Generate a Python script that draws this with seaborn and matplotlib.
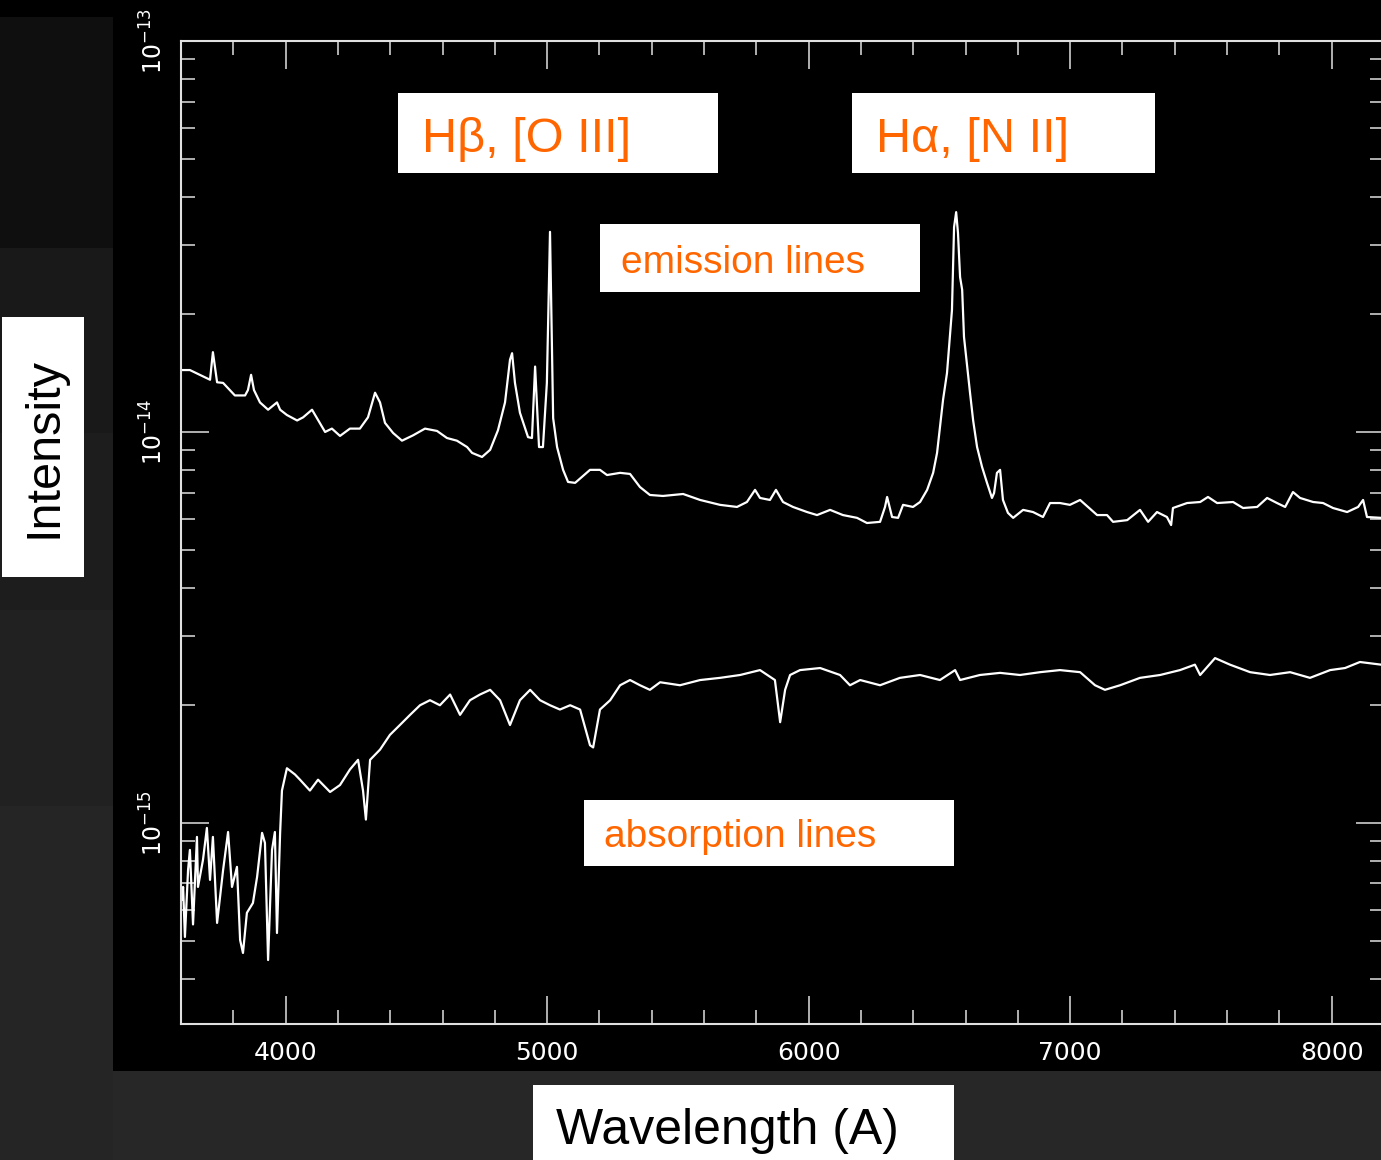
import matplotlib
matplotlib.use("Agg")
import matplotlib.pyplot as plt
import seaborn as sns
import pandas as pd
from matplotlib.patches import Rectangle
from matplotlib.ticker import MultipleLocator, LogLocator, LogFormatterMathtext, NullFormatter

# ---------------- data (flux in units of 1e-15) ----------------
emission_wave = [3600, 3634, 3711, 3722, 3738, 3761, 3806, 3845, 3856, 3868, 3879, 3902, 3933, 3967,
                 3979, 4005, 4044, 4067, 4101, 4120, 4151, 4177, 4208, 4246, 4284, 4315, 4342, 4361,
                 4380, 4411, 4445, 4487, 4533, 4579, 4617, 4655, 4694, 4713, 4751, 4782, 4812, 4839,
                 4858, 4866, 4877, 4896, 4927, 4942, 4954, 4969, 4984, 4999, 5011, 5023, 5038, 5061,
                 5080, 5107, 5164, 5202, 5229, 5279, 5317, 5355, 5393, 5443, 5520, 5585, 5661, 5726,
                 5764, 5795, 5814, 5852, 5875, 5902, 5940, 5994, 6032, 6082, 6131, 6185, 6223, 6273,
                 6292, 6300, 6319, 6342, 6361, 6399, 6426, 6453, 6476, 6491, 6502, 6514, 6529, 6537,
                 6548, 6552, 6556, 6564, 6571, 6579, 6587, 6594, 6606, 6617, 6629, 6644, 6663, 6682,
                 6701, 6709, 6720, 6732, 6743, 6762, 6782, 6820, 6858, 6896, 6923, 6961, 6999, 7038,
                 7068, 7103, 7141, 7164, 7218, 7267, 7298, 7332, 7370, 7386, 7393, 7447, 7497, 7527,
                 7562, 7623, 7661, 7715, 7753, 7791, 7822, 7852, 7879, 7929, 7967, 8005, 8059, 8101,
                 8120, 8135, 8189]
emission_flux = [14.4, 14.4, 13.6, 16.0, 13.4, 13.35, 12.4, 12.4, 12.8, 14.0, 12.8, 11.9, 11.4, 11.9,
                 11.4, 11.05, 10.7, 10.9, 11.4, 10.85, 10.0, 10.2, 9.77, 10.2, 10.2, 10.9, 12.6, 11.9,
                 10.55, 9.94, 9.5, 9.8, 10.2, 10.06, 9.65, 9.5, 9.15, 8.84, 8.63, 9.0, 10.1, 11.9,
                 15.3, 15.9, 13.35, 11.2, 9.7, 9.65, 14.7, 9.15, 9.15, 13.35, 32.5, 10.85, 9.15, 8.0,
                 7.45, 7.41, 8.0, 8.0, 7.76, 7.86, 7.81, 7.23, 6.90, 6.86, 6.94, 6.70, 6.51, 6.43,
                 6.62, 7.11, 6.78, 6.70, 7.11, 6.62, 6.43, 6.24, 6.13, 6.32, 6.13, 6.03, 5.85, 5.89,
                 6.43, 6.82, 6.06, 6.03, 6.51, 6.43, 6.62, 7.11, 7.86, 8.84, 10.3, 12.1, 14.15, 16.5,
                 20.5, 26.4, 33.4, 36.5, 32.3, 24.9, 23.1, 17.5, 14.7, 12.6, 10.7, 9.15, 8.14, 7.41,
                 6.78, 6.98, 7.86, 8.0, 6.70, 6.21, 6.03, 6.32, 6.24, 6.06, 6.58, 6.58, 6.51, 6.70,
                 6.43, 6.13, 6.13, 5.89, 5.95, 6.32, 5.89, 6.24, 6.06, 5.78, 6.39, 6.58, 6.62, 6.82,
                 6.58, 6.62, 6.39, 6.43, 6.78, 6.58, 6.43, 7.02, 6.78, 6.62, 6.58, 6.39, 6.24, 6.43,
                 6.70, 6.06, 6.03]

absorption_wave = [3604, 3608, 3615, 3627, 3634, 3646, 3661, 3665, 3684, 3699, 3711, 3722, 3738, 3761,
                   3780, 3795, 3814, 3826, 3837, 3852, 3875, 3891, 3910, 3921, 3933, 3948, 3959, 3967,
                   3979, 3986, 4005, 4036, 4055, 4093, 4124, 4170, 4208, 4246, 4277, 4296, 4307, 4323,
                   4361, 4399, 4437, 4476, 4514, 4552, 4590, 4629, 4667, 4705, 4743, 4782, 4820, 4858,
                   4896, 4935, 4973, 5011, 5049, 5088, 5126, 5164, 5176, 5202, 5241, 5279, 5317, 5355,
                   5393, 5432, 5508, 5585, 5661, 5738, 5814, 5871, 5891, 5910, 5929, 5967, 6044, 6120,
                   6158, 6197, 6273, 6349, 6426, 6502, 6560, 6579, 6655, 6732, 6808, 6885, 6961, 7038,
                   7095, 7133, 7191, 7267, 7344, 7420, 7477, 7497, 7554, 7611, 7688, 7764, 7841, 7917,
                   7994, 8051, 8108, 8189]
absorption_flux = [0.636, 0.686, 0.511, 0.758, 0.853, 0.55, 0.921, 0.686, 0.804, 0.971, 0.715, 0.921,
                   0.555, 0.758, 0.948, 0.686, 0.772, 0.502, 0.465, 0.589, 0.624, 0.728, 0.943, 0.889,
                   0.446, 0.853, 0.948, 0.523, 0.943, 1.21, 1.38, 1.33, 1.29, 1.21, 1.29, 1.20, 1.25,
                   1.37, 1.45, 1.21, 1.02, 1.45, 1.54, 1.68, 1.78, 1.89, 2.00, 2.06, 2.00, 2.13, 1.89,
                   2.06, 2.13, 2.19, 2.06, 1.78, 2.06, 2.19, 2.06, 2.00, 1.95, 2.00, 1.95, 1.58, 1.56,
                   1.95, 2.06, 2.25, 2.32, 2.25, 2.19, 2.29, 2.25, 2.32, 2.35, 2.39, 2.46, 2.32, 1.81,
                   2.19, 2.39, 2.46, 2.49, 2.39, 2.25, 2.32, 2.25, 2.35, 2.39, 2.32, 2.46, 2.32, 2.39,
                   2.42, 2.39, 2.43, 2.46, 2.43, 2.25, 2.19, 2.25, 2.35, 2.39, 2.46, 2.54, 2.39, 2.64,
                   2.54, 2.43, 2.39, 2.43, 2.35, 2.46, 2.49, 2.58, 2.54]

x_ticks = [4000, 5000, 6000, 7000, 8000]
x_tick_labels = ["4000", "5000", "6000", "7000", "8000"]
y_ticks = [1e-15, 1e-14, 1e-13]

label_hbeta = "Hβ, [O III]"
label_halpha = "Hα, [N II]"
label_emission = "emission lines"
label_absorption = "absorption lines"
label_x = "Wavelength (A)"
label_y = "Intensity"

# ---------------- styling ----------------
sns.set_theme(style="ticks")
plt.rcParams["font.family"] = ["Liberation Sans", "DejaVu Sans"]

W, H = 1381, 1160
ORANGE = "#FF6600"

fig = plt.figure(figsize=(W / 100, H / 100), dpi=100, facecolor="#272727")


def add_rect(x0, y0, x1, y1, color, z):
    fig.add_artist(Rectangle((x0 / W, 1 - y1 / H), (x1 - x0) / W, (y1 - y0) / H,
                             transform=fig.transFigure, facecolor=color,
                             edgecolor="none", zorder=z))


def add_text(x, y, s, size, color, **kw):
    fig.text(x / W, 1 - y / H, s, fontsize=size, color=color, zorder=6,
             family=["Liberation Sans", "DejaVu Sans"], **kw)


# background bands (slide background)
add_rect(0, 0, 113, 17, "#000000", -10)
add_rect(0, 17, 113, 248, "#0f0f0f", -10)
add_rect(0, 248, 113, 433, "#191919", -10)
add_rect(0, 433, 113, 610, "#1d1d1d", -10)
add_rect(0, 610, 113, 806, "#212121", -10)
add_rect(0, 806, 113, 1160, "#252525", -10)
# black plot image
add_rect(113, 0, 1381, 1071, "#000000", -9)

ax = fig.add_axes([181 / W, 1 - 1024 / H, (1384 - 181) / W, (1024 - 41) / H])
ax.set_facecolor("black")
ax.set_yscale("log")

df_em = pd.DataFrame({"wave": emission_wave, "flux": [f * 1e-15 for f in emission_flux]})
df_ab = pd.DataFrame({"wave": absorption_wave, "flux": [f * 1e-15 for f in absorption_flux]})
sns.lineplot(data=df_em, x="wave", y="flux", ax=ax, color="white", lw=1.6,
             estimator=None, sort=False)
sns.lineplot(data=df_ab, x="wave", y="flux", ax=ax, color="white", lw=1.6,
             estimator=None, sort=False)

ax.set_xlim(3600, 8200)
ax.set_ylim(3.06e-16, 1e-13)
ax.set_xlabel("")
ax.set_ylabel("")

ax.set_xticks(x_ticks)
ax.set_xticklabels(x_tick_labels)
ax.xaxis.set_minor_locator(MultipleLocator(200))
ax.set_yticks(y_ticks)
ax.yaxis.set_major_formatter(LogFormatterMathtext())
ax.yaxis.set_minor_locator(LogLocator(base=10, subs=range(2, 10)))
ax.yaxis.set_minor_formatter(NullFormatter())

for sp in ax.spines.values():
    sp.set_color("#e0e0e0")
    sp.set_linewidth(1.5)

ax.tick_params(which="both", direction="in", top=True, right=True,
               color="#e0e0e0", labelcolor="white", width=1.1)
ax.tick_params(which="major", length=20)
ax.tick_params(which="minor", length=10)
ax.tick_params(axis="x", which="major", labelsize=18, pad=12, labelfontfamily="DejaVu Sans")
ax.tick_params(axis="y", which="major", labelsize=17, pad=10, labelrotation=90,
               labelfontfamily="DejaVu Sans")
for t in ax.yaxis.get_major_ticks():
    t.label1.set_verticalalignment("center")

# annotation boxes
add_rect(398, 93, 718, 173, "white", 5)
add_text(422, 152, label_hbeta, 35, ORANGE, va="baseline", ha="left")
add_rect(852, 93, 1155, 173, "white", 5)
add_text(876, 152, label_halpha, 35, ORANGE, va="baseline", ha="left")
add_rect(600, 224, 920, 292, "white", 5)
add_text(621, 273, label_emission, 28, ORANGE, va="baseline", ha="left")
add_rect(584, 800, 954, 866, "white", 5)
add_text(604, 847, label_absorption, 28, ORANGE, va="baseline", ha="left")

# axis title boxes
add_rect(2, 317, 84, 577, "white", 5)
add_text(44, 448, label_y, 35, "black", va="center", ha="center", rotation=90)
add_rect(533, 1085, 954, 1160, "white", 5)
add_text(727, 1144, label_x, 36, "black", va="baseline", ha="center")

fig.savefig("out.png", dpi=100, facecolor=fig.get_facecolor())
